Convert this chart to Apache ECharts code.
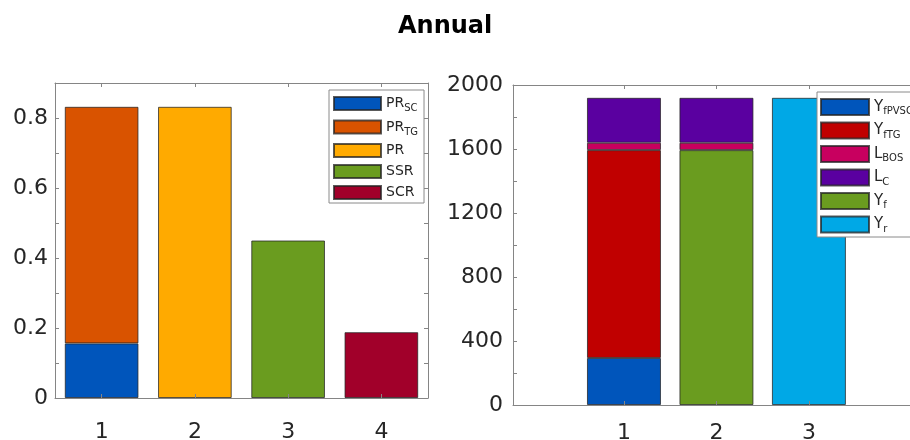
<!DOCTYPE html>
<html>
<head>
<meta charset="utf-8">
<script src="https://cdn.jsdelivr.net/npm/echarts@6/dist/echarts.min.js"></script>
<style>
  html, body { margin: 0; padding: 0; background: #ffffff; }
  #chart { width: 910px; height: 440px; }
</style>
</head>
<body>
<div id="chart"></div>
<script>
// ---- Left panel: ratios ----
const ratioCategories = ['1', '2', '3', '4'];
const prSC = [0.156, null, null, null];
const prTG = [0.676, null, null, null];
const prAll = [null, 0.832, null, null];
const ssr = [null, null, 0.450, null];
const scr = [null, null, null, 0.188];
const ratioTicks = ['0', '0.2', '0.4', '0.6', '0.8'];

// ---- Right panel: yields and losses (kWh/kWp) ----
const yieldPositions = [1, 2, 3];
const yfPVSC = [294, null, null];
const yfTG = [1299, null, null];
const yfTotal = [null, 1593, null];
const yrRef = [null, null, 1920];
const lBOS = [46, 46, null];
const lC = [281, 281, null];
const yieldTicks = [0, 400, 800, 1200, 1600, 2000];

// legend entries: [main text, subscript]
const ratioLegend = [['PR', 'SC'], ['PR', 'TG'], ['PR', ''], ['SSR', ''], ['SCR', '']];
const yieldLegend = [['Y', 'fPVSC'], ['Y', 'fTG'], ['L', 'BOS'], ['L', 'C'], ['Y', 'f'], ['Y', 'r']];

const colors = {
  PRSC: '#0055BB', PRTG: '#D95300', PR: '#FFAA00', SSR: '#6A9C1F', SCR: '#A1002A',
  YfPVSC: '#0055BB', YfTG: '#C00000', LBOS: '#C8005F', LC: '#5A00A0', Yf: '#6A9C1F', Yr: '#00A8E6'
};

const FONT = 'DejaVu Sans';
const axisColor = '#858585';
const textColor = '#262626';
const edge = { borderColor: 'rgba(35,35,35,0.75)', borderWidth: 1 };

const keyOf = (p) => p[0] + p[1];
const legendText = (parts) => parts[1] ? '{m|' + parts[0] + '}{s|' + parts[1] + '}' : '{m|' + parts[0] + '}';

function legendRich(main, sub, drop) {
  return {
    m: { fontFamily: FONT, fontSize: main, lineHeight: main, verticalAlign: 'top', color: textColor },
    s: { fontFamily: FONT, fontSize: sub, lineHeight: sub + 2, padding: [drop, 0, 0, 0], verticalAlign: 'top', color: textColor }
  };
}

function tickStyle(len) {
  return { show: true, inside: true, length: len, lineStyle: { color: axisColor, width: 1 } };
}
const frameLine = { show: true, onZero: false, lineStyle: { color: axisColor } };

const ratioLabel = (v) => {
  const s = v === 0 ? '0' : v.toFixed(1);
  return ratioTicks.includes(s) ? s : '';
};
const yieldLabel = (v) => yieldTicks.includes(v) ? String(v) : '';

function ratioBar(parts, data) {
  const k = keyOf(parts);
  return {
    name: k, type: 'bar', stack: 'ratio', xAxisIndex: 0, yAxisIndex: 0,
    barWidth: '79%', data: data,
    itemStyle: Object.assign({ color: colors[k] }, edge)
  };
}
// value first, position second, so the stack accumulates the heights
function yieldBar(parts, data) {
  const k = keyOf(parts);
  return {
    name: k, type: 'bar', stack: 'yield', xAxisIndex: 2, yAxisIndex: 2,
    barWidth: 74,
    encode: { x: 1, y: 0 },
    data: data.map((v, i) => [v, yieldPositions[i]]),
    itemStyle: Object.assign({ color: colors[k] }, edge)
  };
}

const option = {
  animation: false,
  backgroundColor: '#ffffff',
  title: {
    text: 'Annual', left: 393, top: 10,
    textStyle: { fontFamily: FONT, fontSize: 24, fontWeight: 'bold', color: '#000' }
  },
  grid: [
    { left: 55, top: 83, width: 373, height: 315, outerBoundsMode: 'none' },
    { left: 513, top: 85, width: 430, height: 320, outerBoundsMode: 'none' }
  ],
  xAxis: [
    {
      gridIndex: 0, type: 'category', data: ratioCategories, position: 'bottom', z: 5,
      axisLine: frameLine,
      axisTick: Object.assign(tickStyle(4), { alignWithLabel: true }),
      axisLabel: { fontFamily: FONT, fontSize: 22, color: textColor, margin: 23 },
      splitLine: { show: false }
    },
    {
      gridIndex: 0, type: 'category', data: ratioCategories, position: 'top', z: 5,
      axisLine: frameLine,
      axisTick: Object.assign(tickStyle(4), { alignWithLabel: true }),
      axisLabel: { show: false }, splitLine: { show: false }
    },
    {
      gridIndex: 1, type: 'value', min: -0.2, max: 4.45, position: 'bottom', z: 5,
      axisLine: frameLine,
      axisTick: Object.assign(tickStyle(4), { customValues: yieldPositions }),
      axisLabel: { fontFamily: FONT, fontSize: 22, color: textColor, margin: 17, customValues: yieldPositions, formatter: (v) => String(v) },
      splitLine: { show: false }
    },
    {
      gridIndex: 1, type: 'value', min: -0.2, max: 4.45, position: 'top', z: 5,
      axisLine: frameLine,
      axisTick: Object.assign(tickStyle(4), { customValues: yieldPositions }),
      axisLabel: { show: false }, splitLine: { show: false }
    }
  ],
  yAxis: [
    {
      gridIndex: 0, type: 'value', min: 0, max: 0.9, interval: 0.1, position: 'left', z: 5,
      axisLine: frameLine,
      axisTick: tickStyle(4),
      axisLabel: { fontFamily: FONT, fontSize: 22, color: textColor, margin: 7, formatter: ratioLabel },
      splitLine: { show: false }
    },
    {
      gridIndex: 0, type: 'value', min: 0, max: 0.9, interval: 0.1, position: 'right', z: 5,
      axisLine: frameLine,
      axisTick: tickStyle(4),
      axisLabel: { show: false }, splitLine: { show: false }
    },
    {
      gridIndex: 1, type: 'value', min: 0, max: 2000, interval: 200, position: 'left', z: 5,
      axisLine: frameLine,
      axisTick: tickStyle(4),
      axisLabel: { fontFamily: FONT, fontSize: 22, color: textColor, margin: 10, formatter: yieldLabel },
      splitLine: { show: false }
    },
    {
      gridIndex: 1, type: 'value', min: 0, max: 2000, interval: 200, position: 'right', z: 5,
      axisLine: frameLine,
      axisTick: tickStyle(4),
      axisLabel: { show: false }, splitLine: { show: false }
    }
  ],
  legend: [
    {
      orient: 'vertical', left: 329, top: 90, padding: [6, 6, 3, 4],
      itemWidth: 47, itemHeight: 13, itemGap: 6, icon: 'rect', selectedMode: false,
      backgroundColor: '#ffffff', borderColor: '#8a8a8a', borderWidth: 1, borderRadius: 0,
      data: ratioLegend.map(keyOf),
      formatter: (name) => legendText(ratioLegend.find((p) => keyOf(p) === name)),
      textStyle: { rich: legendRich(14, 10, 7) }
    },
    {
      orient: 'vertical', left: 817, top: 92, padding: [6, 6, 3, 3],
      itemWidth: 48, itemHeight: 16, itemGap: 5, icon: 'rect', selectedMode: false,
      backgroundColor: '#ffffff', borderColor: '#8a8a8a', borderWidth: 1, borderRadius: 0,
      data: yieldLegend.map(keyOf),
      formatter: (name) => legendText(yieldLegend.find((p) => keyOf(p) === name)),
      textStyle: { rich: legendRich(15, 10, 7) }
    }
  ],
  series: [
    ratioBar(ratioLegend[0], prSC),
    ratioBar(ratioLegend[1], prTG),
    ratioBar(ratioLegend[2], prAll),
    ratioBar(ratioLegend[3], ssr),
    ratioBar(ratioLegend[4], scr),
    // stacking order bottom to top
    yieldBar(yieldLegend[0], yfPVSC),
    yieldBar(yieldLegend[1], yfTG),
    yieldBar(yieldLegend[4], yfTotal),
    yieldBar(yieldLegend[5], yrRef),
    yieldBar(yieldLegend[2], lBOS),
    yieldBar(yieldLegend[3], lC)
  ]
};

const chart = echarts.init(document.getElementById('chart'), null, { renderer: 'canvas' });
chart.setOption(option);
</script>
</body>
</html>
